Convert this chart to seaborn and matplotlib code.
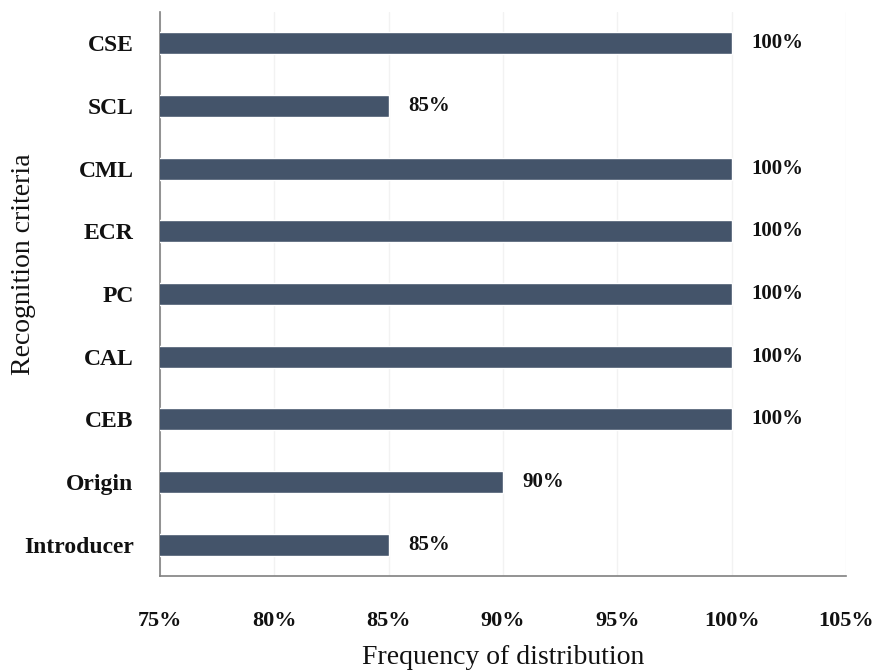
import matplotlib
matplotlib.use("Agg")
import matplotlib.pyplot as plt
import seaborn as sns
import pandas as pd
from matplotlib.ticker import FuncFormatter

criteria = ["CSE", "SCL", "CML", "ECR", "PC", "CAL", "CEB", "Origin", "Introducer"]
values = [100, 85, 100, 100, 100, 100, 100, 90, 85]
xticks = [75, 80, 85, 90, 95, 100, 105]

sns.set_theme(style="white")
plt.rcParams['font.family'] = ['Liberation Serif', 'DejaVu Serif']

df = pd.DataFrame({"criteria": criteria, "value": values})

fig = plt.figure(figsize=(8.85, 6.7), dpi=100)
ax = fig.add_axes([160/885, 1-576/670, (846-160)/885, (576-12)/670])

sns.barplot(data=df, y="criteria", x="value", order=criteria, orient="h",
            color="#44546A", saturation=1, width=0.35, ax=ax, zorder=3)

ax.set_xlim(75, 105)
ax.set_xticks(xticks)
ax.xaxis.set_major_formatter(FuncFormatter(lambda v, p: f"{v:.0f}%"))
ax.grid(axis="x", color="#F2F2F2", linewidth=1, zorder=0)
ax.set_axisbelow(True)

for i, v in enumerate(values):
    ax.text(v + 0.85, i, f"{v}%", va="center", ha="left", fontsize=15,
            fontweight="bold", color="#111111")

for s in ["top", "right"]:
    ax.spines[s].set_visible(False)
for s in ["left", "bottom"]:
    ax.spines[s].set_color("#808080")
    ax.spines[s].set_linewidth(1.2)

ax.tick_params(axis="x", length=0, pad=25, labelsize=16)
ax.tick_params(axis="y", length=0, pad=19, labelsize=17)
for lab in ax.get_xticklabels() + ax.get_yticklabels():
    lab.set_fontweight("bold")
    lab.set_color("#111111")

ax.set_xlabel("Frequency of distribution", fontsize=20, color="#111111")
ax.set_ylabel("Recognition criteria", fontsize=20, color="#111111")
ax.xaxis.set_label_coords(0.5, (576 - 645) / 564)
ax.yaxis.set_label_coords((36 - 160) / 686, (576 - 264) / 564)

fig.savefig("out.png", dpi=100)
